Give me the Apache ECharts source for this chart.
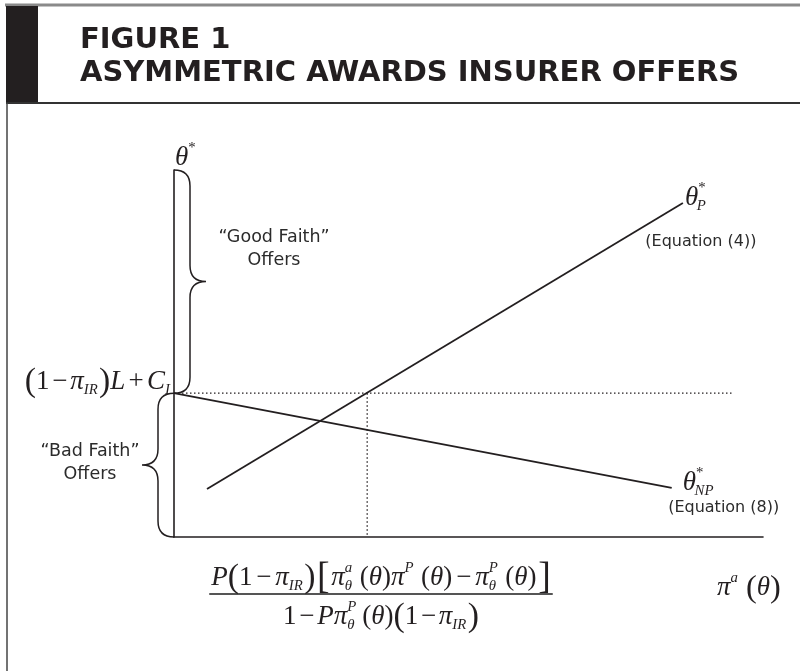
<!DOCTYPE html>
<html>
<head>
<meta charset="utf-8">
<script src="https://cdn.jsdelivr.net/npm/echarts@6/dist/echarts.min.js"></script>
<style>
html, body { margin: 0; padding: 0; background: #fff; }
#chart { width: 800px; height: 671px; }
</style>
</head>
<body>
<div id="chart"></div>
<script>
// both axes run 0..100, the figure is a schematic so only the shape matters
const levelY = 39.2;              // (1 − π_IR) L + C_I
const crossX = 32.8;              // where θ_P* reaches that level
const levelEndX = 94.9;
const thetaPX = [5.6, 86.4];
const thetaPY = [13.1, 91.0];
const thetaNPX = [0, 84.5];
const thetaNPY = [39.2, 13.4];
const braceFrom = [39.2, 0];
const braceTo = [100, 39.2];
const braceSide = [1, -1];
const braceText = ['“Good Faith”\nOffers', '“Bad Faith”\nOffers'];
const titleLines = ['FIGURE 1', 'ASYMMETRIC AWARDS INSURER OFFERS'];

const INK = '#231f20';
const SANS = '"DejaVu Sans", Lato, sans-serif';
const SERIF = '"Liberation Serif", "DejaVu Serif", serif';

const chart = echarts.init(document.getElementById('chart'));

const hiddenAxis = {
  type: 'value', min: 0, max: 100,
  axisLine: { show: true, onZero: false, lineStyle: { color: INK, width: 1.6 } },
  axisTick: { show: false }, axisLabel: { show: false }, splitLine: { show: false }
};

chart.setOption({
  animation: false,
  grid: { left: 174, right: 37, top: 170, bottom: 134 },
  xAxis: hiddenAxis,
  yAxis: hiddenAxis,
  series: [
    {
      type: 'line', symbol: 'none',
      data: thetaPX.map((x, i) => [x, thetaPY[i]]),
      lineStyle: { color: INK, width: 1.8 }
    },
    {
      type: 'line', symbol: 'none',
      data: thetaNPX.map((x, i) => [x, thetaNPY[i]]),
      lineStyle: { color: INK, width: 1.8 }
    },
    {
      type: 'line', symbol: 'none',
      data: [[0, levelY], [levelEndX, levelY]],
      lineStyle: { color: INK, width: 1.3, type: [1.5, 2.5] }
    },
    {
      type: 'line', symbol: 'none',
      data: [[crossX, levelY], [crossX, 0]],
      lineStyle: { color: INK, width: 1.3, type: [1.5, 2.5] }
    },
    {
      type: 'custom',
      data: braceFrom.map((f, i) => [f, braceTo[i], braceSide[i]]),
      renderItem: function (params, api) {
        const top = api.coord([0, api.value(1)]);
        const bot = api.coord([0, api.value(0)]);
        const d = api.value(2);
        const x0 = top[0], yT = top[1], yB = bot[1], ym = (yT + yB) / 2;
        const a = x0 + 16 * d, tip = x0 + 32 * d, r = 16;
        const p = 'M' + x0 + ',' + yT + ' Q' + a + ',' + yT + ' ' + a + ',' + (yT + r) +
          ' L' + a + ',' + (ym - r) + ' Q' + a + ',' + ym + ' ' + tip + ',' + ym +
          ' Q' + a + ',' + ym + ' ' + a + ',' + (ym + r) +
          ' L' + a + ',' + (yB - r) + ' Q' + a + ',' + yB + ' ' + x0 + ',' + yB;
        return { type: 'path', shape: { pathData: p }, style: { stroke: INK, fill: 'none', lineWidth: 1.5 } };
      }
    }
  ]
});

// ---- little math typesetter: measure with a canvas, place plain text pieces
const ctx2d = document.createElement('canvas').getContext('2d');
function fontOf(size, italic) { return (italic ? 'italic ' : '') + size + 'px ' + SERIF; }
function widthOf(str, size, italic) { ctx2d.font = fontOf(size, italic); return ctx2d.measureText(str).width; }
const T = (t, o) => Object.assign({ t: t }, o || {});

function mathRow(tokens, size) {
  let x = 0;
  const items = [];
  const ss = size * 0.55;
  tokens.forEach(tk => {
    const s = size * (tk.s || 1);
    x += (tk.pre || 0) * size;
    items.push({ t: tk.t, x: x, dy: 0, size: s, italic: !!tk.i });
    x += widthOf(tk.t, s, !!tk.i);
    let adv = 0;
    if (tk.sup) {
      const sx = (tk.supX || 0) * size;
      items.push({ t: tk.sup, x: x + sx, dy: -0.37 * size, size: ss, italic: tk.sup !== '*' });
      adv = Math.max(adv, sx + widthOf(tk.sup, ss, true));
    }
    if (tk.sub) {
      const sx = (tk.subX || 0) * size;
      items.push({ t: tk.sub, x: x + sx, dy: 0.3 * size, size: ss, italic: true });
      adv = Math.max(adv, sx + widthOf(tk.sub, ss, true));
    }
    x += adv + (tk.post || 0) * size;
  });
  return { width: x, items: items };
}
function placeMath(row, left, cy) {
  return row.items.map(it => ({
    type: 'text', x: left + it.x, y: cy + it.dy, z: 10,
    style: {
      text: it.t, fontSize: it.size, fontFamily: SERIF,
      fontStyle: it.italic ? 'italic' : 'normal',
      fill: INK, align: 'left', verticalAlign: 'middle'
    }
  }));
}
function sansText(text, x, y, size, align) {
  return {
    type: 'text', x: x, y: y, z: 10,
    style: {
      text: text, fontSize: size, fontFamily: SANS, fill: '#2b2b2b',
      align: align || 'center', verticalAlign: 'middle', lineHeight: size * 1.35
    }
  };
}

const px = p => chart.convertToPixel({ gridIndex: 0 }, p);
const origin = px([0, 0]);
const axisTop = px([0, 100]);
const level = px([0, levelY]);
const pEnd = px([thetaPX[1], thetaPY[1]]);
const npEnd = px([thetaNPX[1], thetaNPY[1]]);
const xEnd = px([100, 0]);

const minus = T('−', { pre: 0.1, post: 0.1 });
const wideMinus = T('−', { pre: 0.14, post: 0.14 });
const levelRow = mathRow([
  T('(', { s: 1.25 }), T('1'), minus, T('π', { i: 1, sub: 'IR', post: 0.05 }), T(')', { s: 1.25 }),
  T('L', { i: 1 }), T('+', { pre: 0.12, post: 0.12 }), T('C', { i: 1, sub: 'I' })
], 27);
const numRow = mathRow([
  T('P', { i: 1 }), T('(', { s: 1.25 }), T('1'), wideMinus, T('π', { i: 1, sub: 'IR', post: 0.05 }), T(')', { s: 1.25 }),
  T('[', { s: 1.4, pre: 0.06, post: 0.06 }), T('π', { i: 1, sup: 'a', sub: 'θ', post: 0.28 }), T('('), T('θ', { i: 1 }), T(')'),
  T('π', { i: 1, sup: 'P', post: 0.28 }), T('('), T('θ', { i: 1 }), T(')'), wideMinus,
  T('π', { i: 1, sup: 'P', sub: 'θ', post: 0.28 }), T('('), T('θ', { i: 1 }), T(')'), T(']', { s: 1.4, pre: 0.06 })
], 27);
const denRow = mathRow([
  T('1'), minus, T('P', { i: 1 }), T('π', { i: 1, sup: 'P', sub: 'θ', post: 0.22 }),
  T('('), T('θ', { i: 1 }), T(')'), T('(', { s: 1.25 }), T('1'), minus,
  T('π', { i: 1, sub: 'IR', post: 0.05 }), T(')', { s: 1.25 })
], 27);
const xRow = mathRow([T('π', { i: 1, sup: 'a', post: 0.3 }), T('(', { s: 1.2 }), T('θ', { i: 1 }), T(')', { s: 1.2 })], 27);
const yRow = mathRow([T('θ', { i: 1, sup: '*' })], 27);
const pRow = mathRow([T('θ', { i: 1, sup: '*', sub: 'P', subX: -0.05 })], 27);
const npRow = mathRow([T('θ', { i: 1, sup: '*', sub: 'NP', subX: -0.05 })], 27);

const fracCx = 381;
const graphic = [
  // title band
  { type: 'line', shape: { x1: 5, y1: 5, x2: 800, y2: 5 }, style: { stroke: '#8a8a8a', lineWidth: 3 } },
  { type: 'rect', shape: { x: 6, y: 6, width: 32, height: 97 }, style: { fill: INK } },
  { type: 'line', shape: { x1: 6, y1: 103, x2: 800, y2: 103 }, style: { stroke: '#333', lineWidth: 2 } },
  { type: 'line', shape: { x1: 7, y1: 103, x2: 7, y2: 671 }, style: { stroke: '#444', lineWidth: 1.5 } },
  { type: 'text', x: 80, y: 40, style: { text: titleLines[0], fontSize: 29, fontWeight: 'bold', fontFamily: SANS, fill: INK, verticalAlign: 'middle' } },
  { type: 'text', x: 80, y: 73, style: { text: titleLines[1], fontSize: 29, fontWeight: 'bold', fontFamily: SANS, fill: INK, verticalAlign: 'middle' } },
  // brace captions
  sansText(braceText[0], 274, 249, 17.5),
  sansText(braceText[1], 90, 463, 17.5),
  sansText('(Equation (4))', pEnd[0] + 18, pEnd[1] + 39, 16),
  sansText('(Equation (8))', npEnd[0] + 52, npEnd[1] + 20, 16),
  // fraction bar under the x axis
  { type: 'line', shape: { x1: fracCx - numRow.width / 2 - 2, y1: 594, x2: fracCx + numRow.width / 2 + 2, y2: 594 }, style: { stroke: '#555', lineWidth: 2 } }
]
  .concat(placeMath(levelRow, level[0] - 4 - levelRow.width, level[1] - 11))
  .concat(placeMath(numRow, fracCx - numRow.width / 2, origin[1] + 41))
  .concat(placeMath(denRow, fracCx - denRow.width / 2, origin[1] + 80))
  .concat(placeMath(xRow, xEnd[0] - 46, origin[1] + 51))
  .concat(placeMath(yRow, axisTop[0] + 1, axisTop[1] - 12))
  .concat(placeMath(pRow, pEnd[0] + 2, pEnd[1] - 5))
  .concat(placeMath(npRow, npEnd[0] + 11, npEnd[1] - 5));

chart.setOption({ graphic: graphic });
</script>
</body>
</html>
